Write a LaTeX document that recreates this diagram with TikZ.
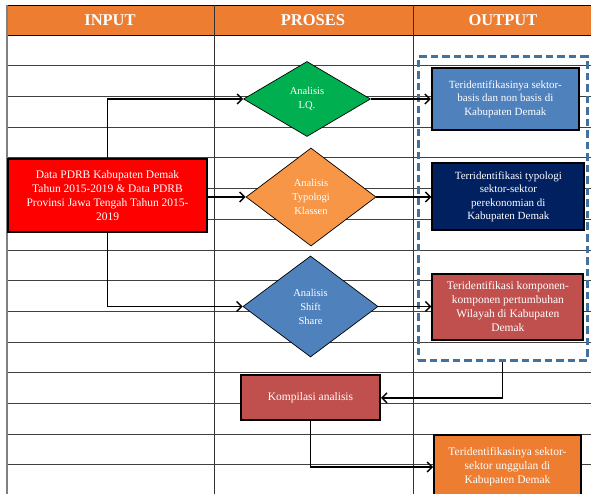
\documentclass[tikz,border=0pt]{standalone}
\usepackage{fontspec}
\setmainfont{Liberation Serif}
\usetikzlibrary{shapes.geometric, arrows.meta, positioning, calc}
\definecolor{headorange}{RGB}{237, 125, 49}
\definecolor{inred}{RGB}{255, 0, 0}
\definecolor{lqgreen}{RGB}{0, 176, 80}
\definecolor{typorange}{RGB}{247, 150, 70}
\definecolor{shsblue}{RGB}{79, 129, 189}
\definecolor{navy1}{RGB}{0, 32, 96}
\definecolor{brickred}{RGB}{192, 80, 77}
\definecolor{dashblue}{RGB}{65, 113, 156}
\tikzset{
  flowbox/.style={rectangle, draw=black, line width=2pt, text=white, align=center, inner sep=2pt, font=\fontsize{11}{13.5}\selectfont},
  bigtext/.style={font=\fontsize{11.5}{14}\selectfont},
  inbox/.style={flowbox, bigtext, fill=inred, minimum width=199pt, minimum height=73pt},
  outbox/.style={flowbox, minimum width=147pt, minimum height=62pt},
  decnode/.style={diamond, draw=black, line width=0.7pt, text=white, align=center, inner sep=0pt, font=\fontsize{10.5}{14}\selectfont},
  groupbox/.style={draw=dashblue, dash pattern=on 7.5pt off 4pt, line width=3pt, minimum width=169pt, minimum height=303pt},
  headtext/.style={text=white, font=\fontsize{16.5}{18}\selectfont\bfseries},
  farrow/.style={-{Straight Barb[length=5pt,width=10pt]}, line width=1.4pt},
  rowline/.style={black!75, line width=0.8pt},
}

\begin{document}
\begin{tikzpicture}[x=1pt, y=-1pt]
  \useasboundingbox[fill=white] (0,0) rectangle (591,494);
  % table
  \fill[headorange] (7,5) rectangle (591,35);
  \foreach \k in {1,...,15}
    \draw[rowline] (7,{35+30.7*\k}) -- (591,{35+30.7*\k});
  \draw[black, line width=0.8pt] (7,5) -- (591,5) (7,35) -- (591,35);
  \draw[black!80, line width=0.8pt] (214,5) -- (214,494) (413,5) -- (413,494);
  \draw[gray, line width=1.5pt] (7,5) -- (7,494);
  \node[headtext] (hin) at (110,20) {INPUT};
  \node[headtext] (hpro) at (313,20) {PROSES};
  \node[headtext] (hout) at (503,20) {OUTPUT};

  \node[groupbox] (grp) at (502.5,208.5) {};
  \node[inbox] (inp) at (107.5,195.5) {Data PDRB Kabupaten Demak\\Tahun 2015-2019 \& Data PDRB\\Provinsi Jawa Tengah Tahun 2015-\\2019};
  \node[decnode, fill=lqgreen, minimum width=127pt, minimum height=75pt] (lq) at (307,99) {Analisis\\LQ.};
  \node[decnode, fill=typorange, minimum width=130pt, minimum height=98pt] (typ) at (311,197) {Analisis\\Typologi\\Klassen};
  \node[decnode, fill=shsblue, minimum width=135pt, minimum height=101pt] (shs) at (310.5,306.5) {Analisis\\Shift\\Share};
  \node[outbox, fill=shsblue] (out1) [right=60pt of lq] {Teridentifikasinya sektor-\\basis dan non basis di\\Kabupaten Demak};
  \node[outbox, fill=navy1, minimum width=152pt, minimum height=67pt] (out2) [right=55pt of typ] {Terridentifikasi typologi\\sektor-sektor\\perekonomian di\\Kabupaten Demak};
  \node[outbox, bigtext, fill=brickred, minimum width=151pt, minimum height=66pt] (out3) [right=53pt of shs] {Teridentifikasi komponen-\\komponen pertumbuhan\\Wilayah di Kabupaten\\Demak};
  \node[flowbox, bigtext, fill=brickred, minimum width=139pt, minimum height=45pt] (komp) [below=17pt of shs] {Kompilasi analisis};
  \node[flowbox, bigtext, fill=headorange, minimum width=147pt, minimum height=64pt] (fin) at (507.5,467) {Teridentifikasinya sektor-\\sektor unggulan di\\Kabupaten Demak};

  \draw[farrow] (inp.north) |- (lq.west);
  \draw[farrow] (inp.east |- typ.west) -- (typ.west);
  \draw[farrow] (inp.south) |- (shs.west);
  \draw[farrow] (lq.east) -- (lq.east -| out1.west);
  \draw[farrow] (typ.east) -- (typ.east -| out2.west);
  \draw[farrow] (shs.east) -- (shs.east -| out3.west);
  \draw[farrow] (grp.south) |- (komp.east);
  \draw[farrow] (komp.south) |- (fin.west);
\end{tikzpicture}
\end{document}
